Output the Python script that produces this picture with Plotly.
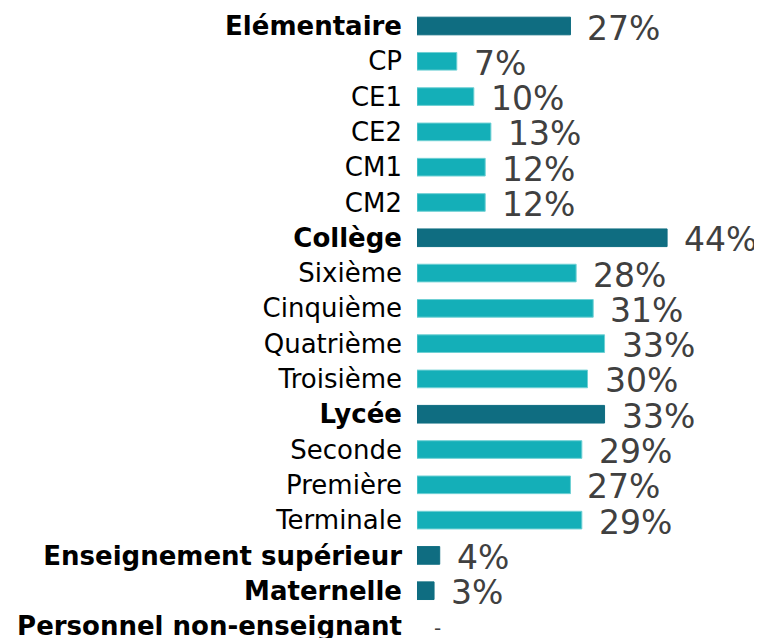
import plotly.graph_objects as go

categories = ["Elémentaire", "CP", "CE1", "CE2", "CM1", "CM2",
              "Collège", "Sixième", "Cinquième", "Quatrième", "Troisième",
              "Lycée", "Seconde", "Première", "Terminale",
              "Enseignement supérieur", "Maternelle", "Personnel non-enseignant"]
values = [27, 7, 10, 13, 12, 12, 44, 28, 31, 33, 30, 33, 29, 27, 29, 4, 3, None]
is_group = [True, False, False, False, False, False,
            True, False, False, False, False,
            True, False, False, False,
            True, True, True]

DARK = "#0f6d81"
LIGHT = "#14afb8"

pos = list(range(len(categories)))
bar_x = [v if v is not None else 0 for v in values]
colors = [DARK if g else LIGHT for g in is_group]
line_colors = [DARK if g else "#6fd0d4" for g in is_group]
line_widths = [1 if v is not None else 0 for v in values]
ticktext = [f"<b>{c}</b>" if g else c for c, g in zip(categories, is_group)]
labels = [f"{v}%" if v is not None else "-" for v in values]

fig = go.Figure(go.Bar(
    x=bar_x, y=pos, orientation="h",
    marker=dict(color=colors, line=dict(color=line_colors, width=line_widths)),
    width=0.5, hoverinfo="skip",
))

for p, x, t in zip(pos, bar_x, labels):
    fig.add_annotation(x=x, y=p, text=t, showarrow=False, xanchor="left",
                       yanchor="middle", xshift=15, yshift=-2,
                       font=dict(family="DejaVu Sans", size=33 if t != "-" else 20,
                                 color="#404040"))

fig.update_layout(
    width=754, height=630,
    margin=dict(l=409, r=0, t=0, b=0),
    plot_bgcolor="white", paper_bgcolor="white",
    showlegend=False,
    xaxis=dict(range=[0, 60.7], visible=False, fixedrange=True),
    yaxis=dict(range=[17.34, -0.51], tickmode="array", tickvals=pos,
               ticktext=ticktext, showgrid=False, zeroline=False,
               showline=False, ticks="", automargin=False,
               ticklabelstandoff=14, ticklabeloverflow="allow",
               tickfont=dict(family="DejaVu Sans", size=26, color="black")),
    font=dict(family="DejaVu Sans"),
)

fig.write_html("out.html")
